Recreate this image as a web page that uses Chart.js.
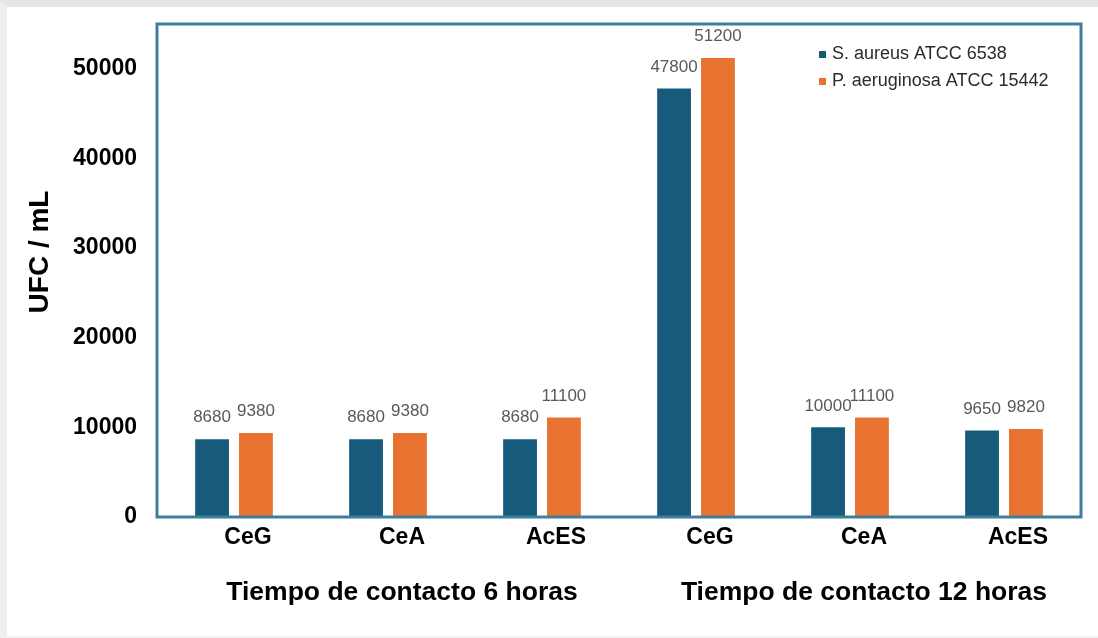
<!DOCTYPE html>
<html>
<head>
<meta charset="utf-8">
<script src="https://cdn.jsdelivr.net/npm/chart.js@4/dist/chart.umd.min.js"></script>
<style>
  html, body { margin: 0; padding: 0; background: #fff; }
  #wrap {
    position: absolute; left: 0; top: 0;
    width: 1091px; height: 629px;
    border-top: 7px solid #e6e6e6;
    border-left: 7px solid #eeeeee;
    border-bottom: 2px solid #f2f2f2;
  }
  canvas { display: block; }
</style>
</head>
<body>
<div id="wrap"><canvas id="chart_1" width="1091" height="629"></canvas></div>
<script>
const categories = ["CeG", "CeA", "AcES", "CeG", "CeA", "AcES"]
const group_labels = ["Tiempo de contacto 6 horas", "Tiempo de contacto 12 horas"]
const s_aureus = [8680, 8680, 8680, 47800, 10000, 9650]
const p_aeruginosa = [9380, 9380, 11100, 51200, 11100, 9820]
const series_names = ["S. aureus ATCC 6538", "P. aeruginosa ATCC 15442"]
const y_ticks = [0, 10000, 20000, 30000, 40000, 50000]
const y_title = "UFC / mL"

const font_name = "'Liberation Sans', Arial, sans-serif"

// blue frame round the plot area
const frame_plugin = {
    id: "frame",
    afterDatasetsDraw(chart){
        const a = chart.chartArea
        const ctx = chart.ctx
        ctx.save()
        ctx.strokeStyle = "#3f7e9c"
        ctx.lineWidth = 3
        ctx.strokeRect(a.left, a.top, a.right - a.left, a.bottom - a.top)
        ctx.restore()
    }
}

// value above each bar
const value_plugin = {
    id: "values",
    afterDatasetsDraw(chart){
        const ctx = chart.ctx
        ctx.save()
        ctx.font = "17px " + font_name
        ctx.fillStyle = "#595959"
        ctx.textAlign = "center"
        ctx.textBaseline = "bottom"
        chart.data.datasets.forEach((ds, i) => {
            chart.getDatasetMeta(i).data.forEach((bar, j) => {
                ctx.fillText(String(ds.data[j]), bar.x, bar.y - 13)
            })
        })
        ctx.restore()
    }
}

// legend inside the plot (top right) and the y title
const legend_plugin = {
    id: "inner_legend",
    afterDraw(chart){
        const a = chart.chartArea
        const ctx = chart.ctx
        const x0 = a.right - 262
        const y0 = a.top + 30
        ctx.save()
        ctx.font = "18px " + font_name
        ctx.textBaseline = "middle"
        chart.data.datasets.forEach((ds, i) => {
            const y = y0 + i * 27
            ctx.fillStyle = ds.backgroundColor
            ctx.fillRect(x0, y - 3, 7, 7)
            ctx.fillStyle = "#2b2b2b"
            ctx.fillText(ds.label, x0 + 13, y)
        })
        ctx.translate(33, a.top + 228)
        ctx.rotate(-Math.PI / 2)
        ctx.font = "bold 28px " + font_name
        ctx.fillStyle = "#000"
        ctx.textAlign = "center"
        ctx.fillText(y_title, 0, 0)
        ctx.restore()
    }
}

const data_1 = {
    labels: categories,
    datasets: [
        {
            label: series_names[0],
            data: s_aureus,
            backgroundColor: "#165b7c",
            categoryPercentage: 0.57,
            barPercentage: 0.77
        },
        {
            label: series_names[1],
            data: p_aeruginosa,
            backgroundColor: "#e8722f",
            categoryPercentage: 0.57,
            barPercentage: 0.77
        }
    ]
}

const config_1 = {
    type: "bar",
    data: data_1,
    options: {
        responsive: false,
        animation: false,
        layout: { padding: { top: 17, right: 17, left: 0, bottom: 0 } },
        plugins: {
            legend: { display: false },
            tooltip: { enabled: false }
        },
        scales: {
            x: {
                weight: 0,
                grid: { display: false, drawTicks: false },
                border: { display: false },
                ticks: {
                    color: "#000",
                    font: { family: font_name, size: 23, weight: "bold" },
                    padding: 7,
                    labelOffset: 14,
                    maxRotation: 0
                },
                afterFit(scale){ scale.height = 40 }
            },
            x2: {
                type: "category",
                position: "bottom",
                weight: 1,
                labels: group_labels,
                grid: { display: false, drawTicks: false },
                border: { display: false },
                ticks: {
                    color: "#000",
                    font: { family: font_name, size: 26.5, weight: "bold" },
                    padding: 20,
                    labelOffset: 14,
                    maxRotation: 0
                },
                afterFit(scale){ scale.height = 79 }
            },
            y: {
                min: 0,
                max: 55000,
                grid: { display: false, drawTicks: false },
                border: { display: false },
                afterBuildTicks(scale){
                    scale.ticks = y_ticks.map(v => ({ value: v }))
                },
                ticks: {
                    color: "#000",
                    font: { family: font_name, size: 23, weight: "bold" },
                    padding: 20,
                    callback: v => String(v)
                },
                afterFit(scale){
                    scale.width = 150
                    scale.paddingTop = 0
                    scale.paddingBottom = 0
                }
            }
        }
    },
    plugins: [frame_plugin, value_plugin, legend_plugin]
}

const ctx_1 = document.getElementById("chart_1").getContext("2d")
const chart_1 = new Chart(ctx_1, config_1)
</script>
</body>
</html>
